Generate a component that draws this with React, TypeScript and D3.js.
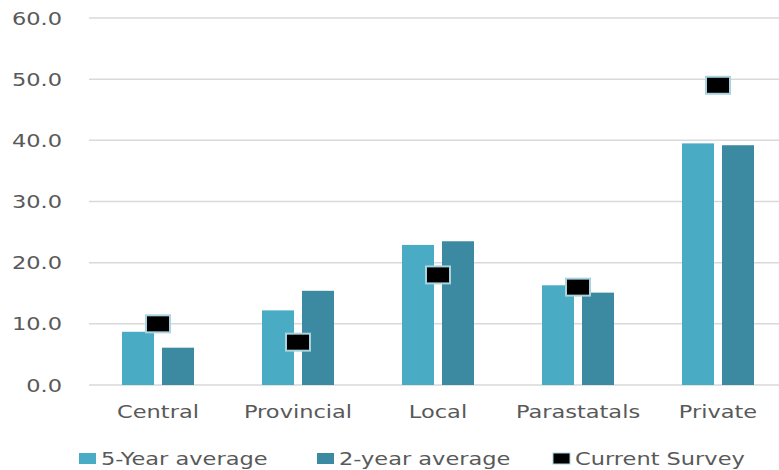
import React from "react";
import * as d3 from "d3";

const categories = ["Central", "Provincial", "Local", "Parastatals", "Private"];
const fiveYearAvg = [8.7, 12.2, 22.9, 16.3, 39.5];
const twoYearAvg = [6.1, 15.4, 23.5, 15.1, 39.2];
const currentSurvey = [10.0, 7.0, 18.0, 16.0, 49.0];
const yTicks = [0, 10, 20, 30, 40, 50, 60];
const seriesNames = ["5-Year average", "2-year average"];

const W = 779;
const H = 470;
const COLORS = ["#4aabc4", "#3b8aa1"];
const TEXT = "#595959";
const FONT = "'DejaVu Sans', Verdana, sans-serif";
const STRETCH = 1.25;

// text drawn wider than the font, like the reference
const Label = ({ x, y, anchor = "middle", children }: any) => (
  <g transform={`translate(${x},${y}) scale(${STRETCH},1)`}>
    <text textAnchor={anchor} fill={TEXT} fontFamily={FONT} fontSize={18}>
      {children}
    </text>
  </g>
);

export default function App() {
  const x = d3.scaleBand<string>().domain(categories).range([88, 788]);
  const inner = d3
    .scaleBand<string>()
    .domain(seriesNames)
    .range([-36, 36])
    .paddingInner(0.2);
  const y = d3.scaleLinear().domain([0, 60]).range([385, 18]);
  const fmt = d3.format(".1f");
  const series = [fiveYearAvg, twoYearAvg];

  const legend = [
    { label: "5-Year average", color: COLORS[0], x: 79 },
    { label: "2-year average", color: COLORS[1], x: 317 },
    { label: "Current Survey", color: "#000", x: 553 },
  ];

  return (
    <svg
      width={W}
      height={H}
      style={{ position: "absolute", left: 0, top: 0, background: "#fff" }}
    >
      {/* grid + y labels */}
      {yTicks.map((t) => (
        <g key={t}>
          <line x1={89} x2={W} y1={y(t)} y2={y(t)} stroke="#d9d9d9" strokeWidth={1.5} />
          <Label x={62} y={y(t) + 6.5} anchor="end">
            {fmt(t)}
          </Label>
        </g>
      ))}

      {/* bars */}
      {series.map((vals, si) =>
        vals.map((v, i) => (
          <rect
            key={`${si}-${i}`}
            x={x(categories[i])! + x.bandwidth() / 2 + inner(seriesNames[si])!}
            y={y(v)}
            width={inner.bandwidth()}
            height={y(0) - y(v)}
            fill={COLORS[si]}
          />
        ))
      )}

      {/* current survey markers */}
      {currentSurvey.map((v, i) => (
        <rect
          key={i}
          x={x(categories[i])! + x.bandwidth() / 2 - 12}
          y={y(v) - 8.5}
          width={24}
          height={17}
          fill="#000"
          stroke="#a9d3df"
          strokeWidth={2}
        />
      ))}

      {/* category labels */}
      {categories.map((c) => (
        <Label key={c} x={x(c)! + x.bandwidth() / 2} y={418}>
          {c}
        </Label>
      ))}

      {/* legend */}
      {legend.map((l) => (
        <g key={l.label}>
          <rect
            x={l.x}
            y={453}
            width={17}
            height={11}
            fill={l.color}
            stroke={l.color === "#000" ? "#a9d3df" : "none"}
          />
          <Label x={l.x + 22} y={465} anchor="start">
            {l.label}
          </Label>
        </g>
      ))}
    </svg>
  );
}
